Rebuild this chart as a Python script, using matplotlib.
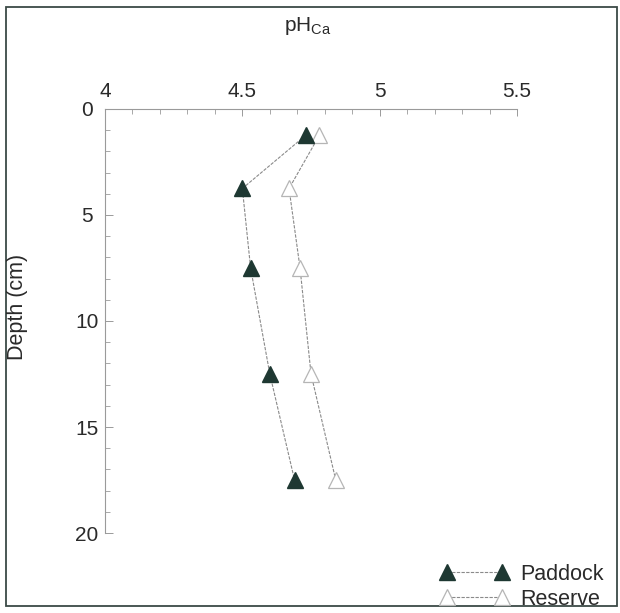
import matplotlib.pyplot as plt
from matplotlib.lines import Line2D
from matplotlib.patches import Rectangle
from matplotlib.ticker import MultipleLocator

plt.rcParams['font.family'] = ['Liberation Sans', 'DejaVu Sans']
plt.rcParams['mathtext.default'] = 'regular'

# pH (CaCl2) profile with depth
depth = [1.25, 3.75, 7.5, 12.5, 17.5]
ph_paddock = [4.73, 4.50, 4.53, 4.60, 4.69]
ph_reserve = [4.78, 4.67, 4.71, 4.75, 4.84]

x_ticks = [4, 4.5, 5, 5.5]
x_labels = ['4', '4.5', '5', '5.5']
y_ticks = [0, 5, 10, 15, 20]

dark = '#1e3832'
line_col = '#8a8a8a'
axis_col = '#9a9a9a'
txt_col = '#2a2a2a'

fig = plt.figure(figsize=(6.2, 6.13), dpi=100)
ax = fig.add_axes([0.1694, 0.1305, 0.6645, 0.6917])

ls = (0, (3, 1.2))
ax.plot(ph_paddock, depth, linestyle=ls, lw=0.8, color=line_col,
        marker='^', ms=12, mfc=dark, mec=dark, zorder=3)
ax.plot(ph_reserve, depth, linestyle=ls, lw=0.8, color=line_col,
        marker='^', ms=12, mfc='white', mec='#b5b5b5', mew=0.9, zorder=2)

ax.set_xlim(4, 5.5)
ax.set_ylim(20, 0)
ax.xaxis.tick_top()
ax.set_xticks(x_ticks)
ax.set_xticklabels(x_labels)
ax.set_yticks(y_ticks)
ax.xaxis.set_minor_locator(MultipleLocator(0.1))
ax.yaxis.set_minor_locator(MultipleLocator(1))

for side in ['right', 'bottom']:
    ax.spines[side].set_visible(False)
for side in ['left', 'top']:
    ax.spines[side].set_color(axis_col)
    ax.spines[side].set_linewidth(0.8)
    ax.spines[side].set_linestyle((0, (2, 1)))

ax.tick_params(which='major', direction='in', width=0.7,
               color=axis_col, labelsize=15, labelcolor=txt_col)
ax.tick_params(which='minor', direction='in', width=0.6, color=axis_col)
ax.tick_params(axis='x', which='major', length=5, pad=6)
ax.tick_params(axis='x', which='minor', length=3.5)
ax.tick_params(axis='y', which='major', length=6, pad=13)
ax.tick_params(axis='y', which='minor', length=3.5)
ax.tick_params(axis='x', which='both', top=True, bottom=False)
for lab in ax.get_yticklabels():
    lab.set_horizontalalignment('center')

fig.text(0.029, 0.50, 'Depth (cm)', rotation=90, ha='center', va='center',
         fontsize=15.5, color=txt_col)
fig.text(0.497, 0.957, r'pH$_{Ca}$', ha='center', va='center',
         fontsize=15, color=txt_col)

handles = [
    Line2D([], [], linestyle=ls, lw=0.8, color=line_col, marker='^', ms=12,
           mfc=dark, mec=dark),
    Line2D([], [], linestyle=ls, lw=0.8, color=line_col, marker='^', ms=12,
           mfc='white', mec='#b5b5b5', mew=0.9),
]
fig.legend(handles, ['Paddock', 'Reserve'], loc='lower left',
           bbox_to_anchor=(0.7105, 0.0049), frameon=False, numpoints=2,
           borderpad=0, borderaxespad=0, handlelength=3.16,
           handletextpad=0.53, labelspacing=0.2, fontsize=15.5,
           labelcolor=txt_col)

# outer frame
fig.add_artist(Rectangle((0.010, 0.012), 0.985, 0.977, transform=fig.transFigure,
                         fill=False, edgecolor='#3c4a46', lw=1.3))

fig.savefig('out.png', dpi=100)
